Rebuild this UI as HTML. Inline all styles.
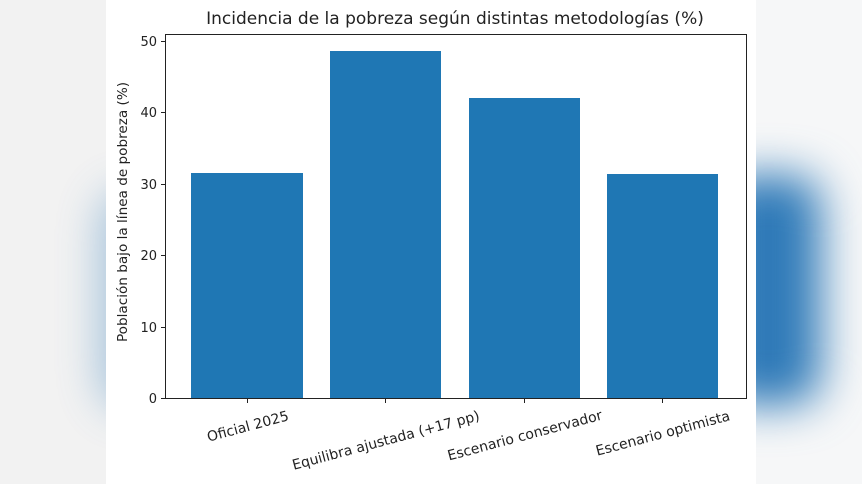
<!DOCTYPE html>
<html><head><meta charset="utf-8"><style>
html,body{margin:0;padding:0;width:862px;height:484px;overflow:hidden;background:#f4f4f4;}
.l{position:absolute;left:0;top:0;width:106px;height:484px;background:#f2f2f2;overflow:hidden}
.r{position:absolute;left:756px;top:0;width:106px;height:484px;background:#f6f7f8;overflow:hidden}
.blob{position:absolute;background:#2f7ab8;filter:blur(22px);border-radius:30px}
.c{position:absolute;left:106px;top:0;width:650px;height:484px;background:#fff}
text{font-family:"DejaVu Sans","Liberation Sans",sans-serif;fill:#222}
</style></head><body>
<div class="l"><div class="blob" style="left:100px;top:190px;width:60px;height:220px;opacity:.4"></div></div>
<div class="r"><div class="blob" style="left:-40px;top:175px;width:105px;height:230px;"></div></div>
<div class="c"></div>
<svg style="position:absolute;left:0;top:0" width="862" height="484">
<text x="455" y="24" font-size="17" text-anchor="middle">Incidencia de la pobreza según distintas metodologías (%)</text>
<g fill="#1f77b4">
<rect x="191" y="173" width="112" height="225"/>
<rect x="330" y="51" width="111" height="347"/>
<rect x="469" y="98" width="111" height="300"/>
<rect x="607" y="174" width="111" height="224"/>
</g>
<rect x="165.5" y="34.5" width="581" height="364" fill="none" stroke="#222" stroke-width="1"/>
<g stroke="#222">
<line x1="161" x2="165" y1="398.5" y2="398.5"/><line x1="161" x2="165" y1="327.5" y2="327.5"/>
<line x1="161" x2="165" y1="255.5" y2="255.5"/><line x1="161" x2="165" y1="184.5" y2="184.5"/>
<line x1="161" x2="165" y1="112.5" y2="112.5"/><line x1="161" x2="165" y1="41.5" y2="41.5"/>
<line x1="247.5" x2="247.5" y1="399" y2="403"/><line x1="385.5" x2="385.5" y1="399" y2="403"/>
<line x1="524.5" x2="524.5" y1="399" y2="403"/><line x1="662.5" x2="662.5" y1="399" y2="403"/>
</g>
<g font-size="13" text-anchor="end">
<text x="157" y="403">0</text><text x="157" y="332">10</text><text x="157" y="260">20</text>
<text x="157" y="189">30</text><text x="157" y="117">40</text><text x="157" y="46">50</text>
</g>
<text transform="translate(127,212) rotate(-90)" font-size="13.6" text-anchor="middle">Población bajo la línea de pobreza (%)</text>
<g font-size="14" text-anchor="middle" dominant-baseline="central">
<text transform="translate(248,427) rotate(-15)">Oficial 2025</text>
<text transform="translate(386,441) rotate(-15)">Equilibra ajustada (+17 pp)</text>
<text transform="translate(525,436) rotate(-15)">Escenario conservador</text>
<text transform="translate(663,434) rotate(-15)">Escenario optimista</text>
</g>
</svg>
</body></html>
